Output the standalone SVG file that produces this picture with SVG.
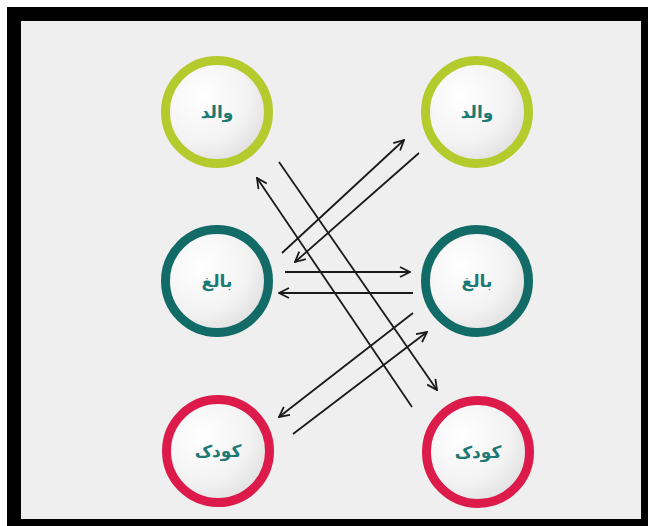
<svg xmlns="http://www.w3.org/2000/svg" width="648" height="526" viewBox="0 0 648 526">
  <defs>
    <radialGradient id="fill" cx="0.35" cy="0.35" r="0.75">
      <stop offset="0" stop-color="#ffffff"/>
      <stop offset="0.6" stop-color="#f3f3f3"/>
      <stop offset="1" stop-color="#dcdcdc"/>
    </radialGradient>
    <marker id="ah" viewBox="0 0 12 12" refX="11" refY="6" markerWidth="12" markerHeight="12" markerUnits="userSpaceOnUse" orient="auto">
      <path d="M1,1 L11,6 L1,11" fill="none" stroke="#1a1a1a" stroke-width="1.8"/>
    </marker>
  </defs>
  <style>
    .ring { fill: url(#fill); stroke-width: 9; }
    .lime { stroke: #b3cb2d; }
    .teal { stroke: #136b67; }
    .red { stroke: #dc1b4b; }
    .lbl { font-family: "DejaVu Sans", "Noto Sans", sans-serif; font-weight: bold; font-size: 17px; fill: #1b7a76; text-anchor: middle; }
    .c { stroke: #1a1a1a; stroke-width: 1.8; fill: none; }
    .a { marker-end: url(#ah); }
  </style>
  <rect x="0" y="0" width="648" height="526" fill="#ffffff"/>
  <rect x="7" y="7" width="641" height="519" fill="#000000"/>
  <rect x="21" y="21" width="620" height="498" fill="#efefef"/>

  <g id="parent-left">
    <circle class="ring lime" cx="217" cy="112" r="51.5"/>
    <text class="lbl" x="217" y="118">والد</text>
  </g>
  <g id="parent-right">
    <circle class="ring lime" cx="477" cy="112" r="51.5"/>
    <text class="lbl" x="477" y="118">والد</text>
  </g>
  <g id="adult-left">
    <circle class="ring teal" cx="217" cy="281" r="51.5"/>
    <text class="lbl" x="217" y="287">بالغ</text>
  </g>
  <g id="adult-right">
    <circle class="ring teal" cx="477" cy="281" r="51.5"/>
    <text class="lbl" x="477" y="287">بالغ</text>
  </g>
  <g id="child-left">
    <circle class="ring red" cx="218" cy="451" r="51.5"/>
    <text class="lbl" x="218" y="457">کودک</text>
  </g>
  <g id="child-right">
    <circle class="ring red" cx="478" cy="452" r="51.5"/>
    <text class="lbl" x="478" y="458">کودک</text>
  </g>

  <g id="connectors">
    <line class="c a" x1="279" y1="162" x2="437" y2="390"/>
    <line class="c a" x1="412" y1="407" x2="257" y2="178"/>
    <line class="c a" x1="282" y1="253" x2="404" y2="140"/>
    <line class="c a" x1="419" y1="153" x2="295" y2="262"/>
    <line class="c a" x1="285" y1="272" x2="410" y2="272"/>
    <line class="c a" x1="413" y1="293" x2="279" y2="293"/>
    <line class="c a" x1="413" y1="313" x2="279" y2="417"/>
    <line class="c a" x1="293" y1="434" x2="427" y2="332"/>
  </g>
</svg>
